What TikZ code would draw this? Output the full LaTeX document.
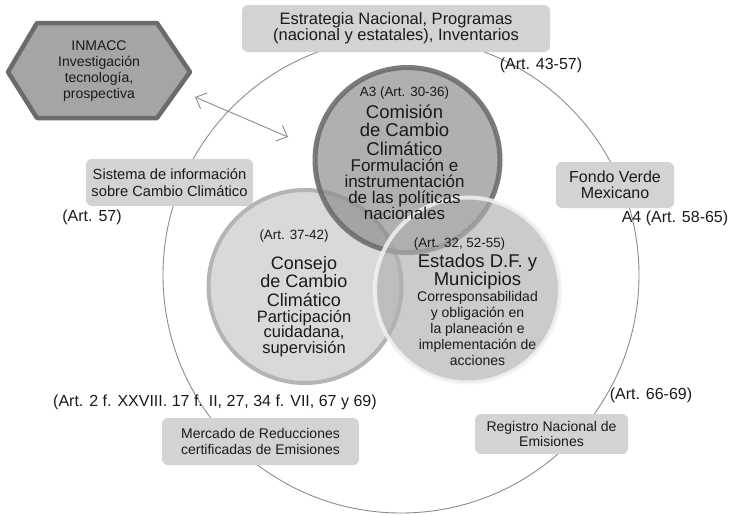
\documentclass[tikz,border=0pt]{standalone}
\usepackage{fontspec}
\setmainfont{Liberation Sans}
\usepackage{tikz}
\usetikzlibrary{shapes,arrows.meta}
\usetikzlibrary{positioning}

\definecolor{tinta}{HTML}{1A1A1A}
\definecolor{cajagris}{HTML}{D3D3D3}
\definecolor{lineagris}{HTML}{8C8C8C}
\definecolor{hexgris}{HTML}{A5A5A5}
\definecolor{hexborde}{HTML}{6B6B6B}
\definecolor{comisiongris}{HTML}{8E8E8E}
\definecolor{comisionborde}{HTML}{6E6E6E}
\definecolor{consejogris}{HTML}{D9D9D9}
\definecolor{consejoborde}{HTML}{B4B4B4}
\definecolor{estadosgris}{HTML}{B0B0B0}
\definecolor{estadosborde}{HTML}{F2F2F2}

\begin{document}
\begin{tikzpicture}[x=1pt,y=-1pt,on grid,
    every node/.style={align=center,inner sep=0pt,text=tinta},
    caja/.style 2 args={fill=cajagris,rounded corners=6pt,minimum width=#1,minimum height=#2},
    circulo/.style={circle,minimum size=#1},
    art/.style={font=\fontsize{16}{16}\selectfont},
    artchico/.style={font=\fontsize{13.4}{14}\selectfont},
    titulo/.style={font=\fontsize{18.5}{18.5}\selectfont},
    texto/.style={font=\fontsize{14}{16}\selectfont},
    flecha/.style={draw=lineagris,line width=.9pt,
        {Straight Barb[length=9pt,width=17pt]}-{Straight Barb[length=9pt,width=17pt]}}]
    \useasboundingbox (0,0) rectangle (730,514);

    % marco general
    \node[circulo=476,draw=lineagris,line width=.9pt] (marco) at (401,275) {};

    % INMACC
    \draw[fill=hexgris,draw=hexborde,line width=4.5pt,line join=round]
        (8,72) -- (37,23) -- (157,23) -- (190,72) -- (157,118) -- (37,118) -- cycle;
    \node[texto] (inmacc) at (99,71.5) {INMACC\\Investigación\\tecnología,\\prospectiva};
    \coordinate (flechaIni) at (195,97);
    \coordinate (flechaFin) at (288,137);
    \draw[flecha] (flechaIni) -- (flechaFin);

    % cajas
    \node[caja={308}{47},font=\fontsize{16.5}{16}\selectfont] (estrategia) at (396,28.5)
        {Estrategia Nacional, Programas\\(nacional y estatales), Inventarios};
    \node[caja={167}{47},font=\fontsize{14.7}{17}\selectfont] (sistema) at (169.5,182.5)
        {Sistema de información\\sobre Cambio Climático};
    \node[caja={118}{46},font=\fontsize{16}{15.5}\selectfont] (fondo) at (615,185)
        {Fondo Verde\\Mexicano};
    \node[caja={197}{47},texto] (mercado) at (260.5,441.5)
        {Mercado de Reducciones\\certificadas de Emisiones};
    \node[caja={153}{40},font=\fontsize{14}{14.5}\selectfont] (registro) at (551.5,434)
        {Registro Nacional de\\Emisiones};

    \node[art] (art4357) at (541,65) {(Art. 43-57)};
    \node[art] (art57) at (92,217) {(Art. 57)};
    \node[art] (art5865) at (675,218) {A4 (Art. 58-65)};
    \node[art,anchor=west] (art2) at (53,402) {(Art. 2 f. XXVIII. 17 f. II, 27, 34 f. VII, 67 y 69)};
    \node[art] (art6669) at (651,395) {(Art. 66-69)};

    % los tres circulos
    \begin{scope}[line width=4pt]
        \node[circulo=193,fill=consejogris,draw=consejoborde] (consejo) at (305,286.5) {};
        \node[circulo=185,fill=comisiongris,draw=comisionborde,line width=5pt,
            fill opacity=.7,draw opacity=.9] (comision) at (407.5,160) {};
        \node[circulo=185,fill=estadosgris,draw=estadosborde,
            fill opacity=.66,draw opacity=.85] (estados) at (467.5,290) {};
    \end{scope}

    \node[titulo,above=30pt of comision,xshift=-3pt] (comisionTit) {Comisión\\de Cambio\\Climático};
    \node[artchico,above=37pt of comisionTit] (comisionArt) {A3 (Art. 30-36)};
    \node[font=\fontsize{17}{16}\selectfont,below=59pt of comisionTit] (comisionTxt)
        {Formulación e\\instrumentación\\de las políticas\\nacionales};

    \node[titulo,above=5pt of consejo,xshift=-1pt,font=\fontsize{18}{18.5}\selectfont] (consejoTit)
        {Consejo\\de Cambio\\Climático};
    \node[artchico,above=45pt of consejoTit,xshift=-10pt] (consejoArt) {(Art. 37-42)};
    \node[font=\fontsize{16.5}{15.5}\selectfont,below=52pt of consejoTit] (consejoTxt)
        {Participación\\cuidadana,\\supervisión};

    \node[titulo,above=18.5pt of estados,xshift=10pt,font=\fontsize{18.5}{17}\selectfont] (estadosTit)
        {Estados D.F. y\\Municipios};
    \node[artchico,above=27pt of estadosTit,xshift=-18pt] (estadosArt) {(Art. 32, 52-55)};
    \node[font=\fontsize{14}{15.8}\selectfont,below=57pt of estadosTit] (estadosTxt)
        {Corresponsabilidad\\y obligación en\\la planeación e\\implementación de\\acciones};
\end{tikzpicture}
\end{document}
